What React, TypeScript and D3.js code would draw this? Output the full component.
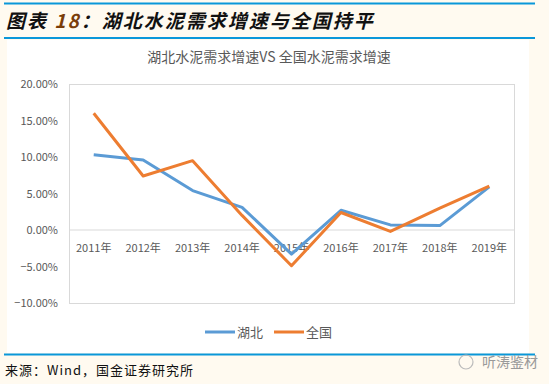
import React from 'react';
import * as d3 from 'd3';

const years = ['2011年', '2012年', '2013年', '2014年', '2015年', '2016年', '2017年', '2018年', '2019年'];
const hubei = [10.3, 9.6, 5.4, 3.1, -3.3, 2.7, 0.7, 0.6, 5.9];
const national = [16.0, 7.4, 9.5, 2.0, -4.9, 2.4, -0.2, 3.0, 6.0];
const yTicks = [20, 15, 10, 5, 0, -5, -10];

const W = 549;
const H = 384;
const margin = { top: 84, right: 35, bottom: 81, left: 69 };

export default function App() {
  const ref = React.useRef<SVGSVGElement>(null);

  React.useEffect(() => {
    const svg = d3.select(ref.current);
    svg.selectAll('*').remove();

    const font = '"Noto Sans CJK SC", "Noto Sans", sans-serif';
    const innerW = W - margin.left - margin.right;
    const innerH = H - margin.top - margin.bottom;

    // page background and white chart card
    svg.append('rect').attr('width', W).attr('height', H).attr('fill', '#fffaf0');
    svg.append('rect').attr('x', 7).attr('y', 40).attr('width', 522).attr('height', 313).attr('fill', '#fff');

    // report frame lines
    [3.5, 38, 354.5].forEach(y => {
      svg.append('line')
        .attr('x1', 4).attr('x2', 535).attr('y1', y).attr('y2', y)
        .attr('stroke', '#0a97d9').attr('stroke-width', 2);
    });

    const heading = svg.append('text')
      .attr('x', 6).attr('y', 28)
      .attr('font-family', font).attr('font-size', 19)
      .attr('font-weight', 'bold').attr('font-style', 'italic')
      .attr('letter-spacing', 2)
      .attr('fill', '#111');
    heading.append('tspan').text('图表 ');
    heading.append('tspan').attr('fill', '#7a3d0a').text('18');
    heading.append('tspan').text('：湖北水泥需求增速与全国持平');

    svg.append('text')
      .attr('x', 269).attr('y', 62)
      .attr('text-anchor', 'middle')
      .attr('font-family', font).attr('font-size', 14)
      .attr('fill', '#595959')
      .text('湖北水泥需求增速VS 全国水泥需求增速');

    const g = svg.append('g').attr('transform', `translate(${margin.left},${margin.top})`);

    const x = d3.scaleBand().domain(years).range([0, innerW]);
    const y = d3.scaleLinear().domain([-10, 20]).range([innerH, 0]);

    g.append('rect')
      .attr('x', 0.5).attr('y', 0.5)
      .attr('width', innerW).attr('height', innerH)
      .attr('fill', 'none').attr('stroke', '#d9d9d9');

    g.append('line')
      .attr('x1', 0).attr('x2', innerW)
      .attr('y1', y(0)).attr('y2', y(0))
      .attr('stroke', '#d9d9d9').attr('stroke-width', 1);

    g.selectAll('.ytick')
      .data(yTicks)
      .enter()
      .append('text')
      .attr('x', -11)
      .attr('y', d => y(d) + 4)
      .attr('text-anchor', 'end')
      .attr('font-family', font).attr('font-size', 11)
      .attr('fill', '#595959')
      .text(d => d3.format('.2f')(d) + '%');

    g.selectAll('.xtick')
      .data(years)
      .enter()
      .append('text')
      .attr('x', d => (x(d) || 0) + x.bandwidth() / 2)
      .attr('y', y(0) + 22)
      .attr('text-anchor', 'middle')
      .attr('font-family', font).attr('font-size', 11)
      .attr('fill', '#595959')
      .text(d => d);

    const line = d3.line<number>()
      .x((_, i) => (x(years[i]) || 0) + x.bandwidth() / 2)
      .y(d => y(d));

    const series = [
      { name: '湖北', values: hubei, color: '#5b9bd5' },
      { name: '全国', values: national, color: '#ed7d31' },
    ];

    series.forEach(s => {
      g.append('path')
        .datum(s.values)
        .attr('d', line)
        .attr('fill', 'none')
        .attr('stroke', s.color)
        .attr('stroke-width', 3)
        .attr('stroke-linejoin', 'round');
    });

    // legend
    const legendX = [205, 274];
    series.forEach((s, i) => {
      svg.append('line')
        .attr('x1', legendX[i]).attr('x2', legendX[i] + 30)
        .attr('y1', 332).attr('y2', 332)
        .attr('stroke', s.color).attr('stroke-width', 3);
      svg.append('text')
        .attr('x', legendX[i] + 32).attr('y', 337)
        .attr('font-family', font).attr('font-size', 13)
        .attr('fill', '#595959')
        .text(s.name);
    });

    svg.append('text')
      .attr('x', 5).attr('y', 375)
      .attr('font-family', font).attr('font-size', 13)
      .attr('letter-spacing', 1)
      .attr('fill', '#111')
      .text('来源：Wind，国金证券研究所');

    // watermark
    svg.append('circle').attr('cx', 466).attr('cy', 362).attr('r', 7)
      .attr('fill', 'none').attr('stroke', '#bbb').attr('stroke-width', 1.2);
    svg.append('text')
      .attr('x', 482).attr('y', 367)
      .attr('font-family', font).attr('font-size', 14)
      .attr('fill', '#999')
      .text('听涛鉴材');
  }, []);

  return (
    <svg ref={ref} width={W} height={H} style={{ position: 'absolute', left: 0, top: 0 }} />
  );
}
